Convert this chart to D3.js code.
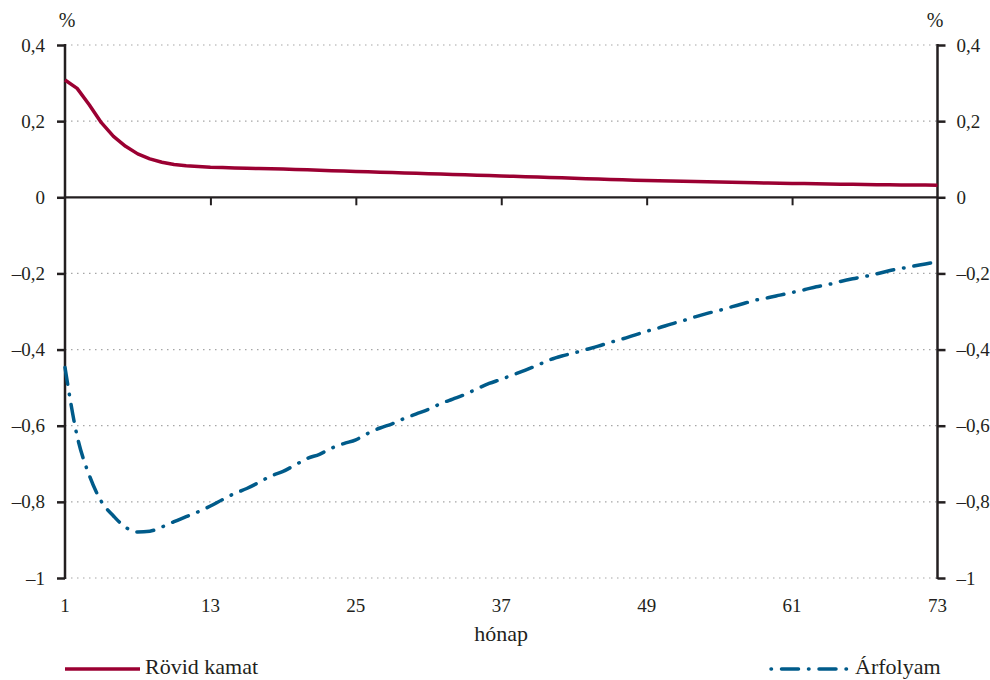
<!DOCTYPE html>
<html>
<head>
<meta charset="utf-8">
<script src="https://cdn.jsdelivr.net/npm/d3@7"></script>
<style>
  html, body { margin: 0; padding: 0; background: #fff; }
  svg { display: block; }
  text { font-family: "Liberation Serif", "Times New Roman", serif; fill: #231f20; }
</style>
</head>
<body>
<svg id="chart" width="990" height="680"></svg>
<script>
// Months 1..73
const months = d3.range(1, 74);

// Short-term interest rate response (%)
const rovidKamat = [
  0.308, 0.286, 0.243, 0.196, 0.160, 0.134, 0.114, 0.101, 0.092, 0.086,
  0.083, 0.081, 0.079, 0.078, 0.077, 0.076, 0.0755, 0.075, 0.074, 0.073,
  0.072, 0.071, 0.070, 0.069, 0.068, 0.067, 0.066, 0.065, 0.064, 0.063,
  0.062, 0.061, 0.060, 0.059, 0.058, 0.057, 0.056, 0.055, 0.054, 0.053,
  0.052, 0.051, 0.050, 0.049, 0.048, 0.047, 0.046, 0.045, 0.044, 0.0435,
  0.043, 0.042, 0.0415, 0.041, 0.040, 0.0395, 0.039, 0.038, 0.0375, 0.037,
  0.0365, 0.036, 0.0355, 0.035, 0.0345, 0.034, 0.0335, 0.033, 0.0327, 0.0325,
  0.0322, 0.032, 0.0318
];

// Exchange rate response (%)
const arfolyam = [
  -0.447, -0.627, -0.730, -0.799, -0.837, -0.867, -0.879, -0.877, -0.866, -0.852,
  -0.839, -0.826, -0.811, -0.794, -0.778, -0.765, -0.749, -0.732, -0.720, -0.703,
  -0.686, -0.675, -0.659, -0.647, -0.637, -0.620, -0.606, -0.595, -0.581, -0.569,
  -0.557, -0.542, -0.530, -0.518, -0.503, -0.489, -0.478, -0.466, -0.454, -0.441,
  -0.427, -0.417, -0.409, -0.400, -0.391, -0.381, -0.372, -0.362, -0.352, -0.343,
  -0.333, -0.324, -0.314, -0.305, -0.297, -0.288, -0.279, -0.270, -0.264, -0.257,
  -0.250, -0.243, -0.235, -0.229, -0.221, -0.214, -0.208, -0.201, -0.193, -0.187,
  -0.181, -0.175, -0.169
];

const xTicks = [1, 13, 25, 37, 49, 61, 73];
const yTicks = [0.4, 0.2, 0, -0.2, -0.4, -0.6, -0.8, -1];
const seriesNames = ["Rövid kamat", "Árfolyam"];

const RED = "#9b0032";
const BLUE = "#005b8a";
const INK = "#231f20";
const TICK_FS = 19, LABEL_FS = 22;

const svg = d3.select("#chart");
const plotL = 65, plotR = 937.5, plotT = 45, plotB = 578;

const x = d3.scaleLinear().domain([1, 73]).range([plotL, plotR]);
const y = d3.scaleLinear().domain([-1, 0.4]).range([plotB, plotT]);

const fmt = v => v === 0 ? "0" : (v < 0 ? "\u2013" : "") + Math.abs(v).toFixed(1).replace(".", ",")
  .replace(/,0$/, "");

// Dotted gridlines
svg.append("g").selectAll("line")
  .data(yTicks.filter(v => v !== 0))
  .join("line")
  .attr("x1", plotL).attr("x2", plotR)
  .attr("y1", d => y(d)).attr("y2", d => y(d))
  .attr("stroke", "#a6a6a6").attr("stroke-width", 1.2)
  .attr("stroke-dasharray", "1.5,4.5");

// Left and right value axes
const yLeft = d3.axisLeft(y).tickValues(yTicks).tickSize(8).tickPadding(12).tickFormat(fmt);
const gl = svg.append("g").attr("transform", `translate(${plotL},0)`).call(yLeft);
const yRight = d3.axisRight(y).tickValues(yTicks).tickSize(8).tickPadding(11).tickFormat(fmt);
const gr = svg.append("g").attr("transform", `translate(${plotR},0)`).call(yRight);

[gl, gr].forEach(g => {
  g.select(".domain").remove();
  g.selectAll(".tick line").attr("stroke", INK).attr("stroke-width", 2.5);
  g.selectAll(".tick text").attr("font-size", TICK_FS).attr("fill", INK)
    .attr("font-family", "Liberation Serif, serif");
});
// Axis spines
[plotL, plotR].forEach(px => {
  svg.append("line").attr("x1", px).attr("x2", px)
    .attr("y1", y(0.4) - 1).attr("y2", y(-1) + 1)
    .attr("stroke", INK).attr("stroke-width", 2.5);
});

// Zero line with downward month ticks
const xAxis = d3.axisBottom(x).tickValues(xTicks.slice(1, -1)).tickSize(8).tickFormat("");
const gx = svg.append("g").attr("transform", `translate(0,${y(0)})`).call(xAxis);
gx.select(".domain").remove();
gx.selectAll(".tick line").attr("stroke", INK).attr("stroke-width", 2);
svg.append("line").attr("x1", plotL).attr("x2", plotR)
  .attr("y1", y(0)).attr("y2", y(0))
  .attr("stroke", INK).attr("stroke-width", 2.2);

// Month labels below plot
svg.append("g").selectAll("text")
  .data(xTicks).join("text")
  .attr("x", d => x(d)).attr("y", 612)
  .attr("text-anchor", "middle").attr("font-size", TICK_FS)
  .text(d => d);

svg.append("text").attr("x", (plotL + plotR) / 2).attr("y", 641)
  .attr("text-anchor", "middle").attr("font-size", LABEL_FS).text("hónap");

// Unit labels
svg.append("text").attr("x", 67).attr("y", 27).attr("text-anchor", "middle").attr("font-size", 20).text("%");
svg.append("text").attr("x", 935).attr("y", 27).attr("text-anchor", "middle").attr("font-size", 20).text("%");

// Series lines
const line = d3.line().x((d, i) => x(months[i])).y(d => y(d));

svg.append("path").datum(rovidKamat)
  .attr("d", line.curve(d3.curveLinear))
  .attr("fill", "none").attr("stroke", RED).attr("stroke-width", 3.5)
  .attr("stroke-linejoin", "round");

svg.append("path").datum(arfolyam)
  .attr("d", line.curve(d3.curveMonotoneX))
  .attr("fill", "none").attr("stroke", BLUE).attr("stroke-width", 3.5)
  .attr("stroke-linecap", "round")
  .attr("stroke-dasharray", "17,10,0.5,10");

// Legend
svg.append("line").attr("x1", 65).attr("x2", 140).attr("y1", 669).attr("y2", 669)
  .attr("stroke", RED).attr("stroke-width", 3.5);
svg.append("text").attr("x", 145).attr("y", 674).attr("font-size", LABEL_FS).text(seriesNames[0]);

svg.append("line").attr("x1", 771).attr("x2", 848).attr("y1", 669).attr("y2", 669)
  .attr("stroke", BLUE).attr("stroke-width", 3.5).attr("stroke-linecap", "round")
  .attr("stroke-dasharray", "0.5,10,17,10");
svg.append("text").attr("x", 855).attr("y", 674).attr("font-size", LABEL_FS).text(seriesNames[1]);
</script>
</body>
</html>
